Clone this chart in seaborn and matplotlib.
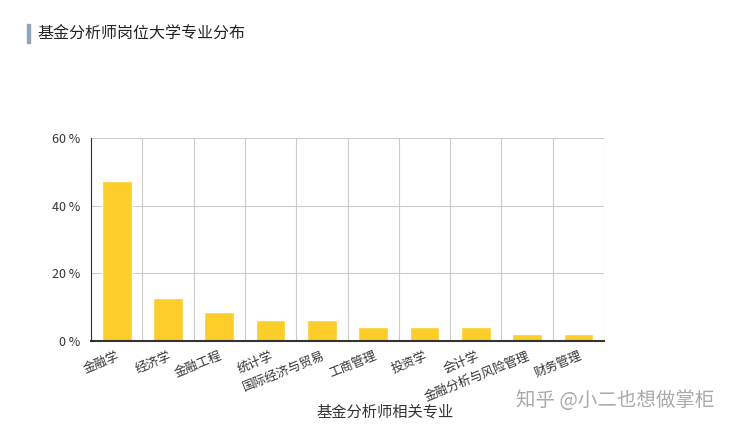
import numpy as np
import pandas as pd
import matplotlib
matplotlib.use("Agg")
import matplotlib.pyplot as plt
import seaborn as sns

majors = ["金融学", "经济学", "金融工程", "统计学", "国际经济与贸易",
          "工商管理", "投资学", "会计学", "金融分析与风险管理", "财务管理"]
share = [47.4, 12.6, 8.5, 6.2, 6.2, 4.1, 4.1, 4.1, 2.1, 2.1]
yticks = [0, 20, 40, 60]

df = pd.DataFrame({"major": majors, "share": share})

sns.set_style("white")
plt.rcParams["font.family"] = ["Noto Sans CJK SC", "DejaVu Sans"]

fig = plt.figure(figsize=(7.43, 4.30), dpi=100)
ax = fig.add_axes([0.1225, 0.207, 0.6905, 0.472])

sns.barplot(data=df, x="major", y="share", color="#FDCD2A", saturation=1,
            width=0.58, ax=ax, zorder=3)

ax.set_xlim(-0.5, len(majors) - 0.5)
ax.set_ylim(0, 60)
ax.set_yticks(yticks)
ax.set_yticklabels([f"{v} %" for v in yticks], fontsize=9, color="#333333")
ax.set_xticks(range(len(majors)))
ax.set_xticklabels(majors, rotation=22, ha="right", va="top",
                   rotation_mode="anchor", fontsize=9, color="#333333")
ax.tick_params(axis="x", which="major", length=0, pad=6)
ax.set_xticks(np.arange(-0.5, len(majors), 1), minor=True)
ax.tick_params(axis="x", which="minor", length=5, color="#333333", width=1)
ax.tick_params(axis="y", length=5, color="#333333", width=1, pad=3)

ax.grid(True, axis="y", color="#cccccc", linewidth=0.8, zorder=0)
ax.grid(True, axis="x", which="minor", color="#cccccc", linewidth=0.8, zorder=0)
ax.grid(False, axis="x", which="major")

for s in ["top", "right"]:
    ax.spines[s].set_visible(False)
for s in ["left", "bottom"]:
    ax.spines[s].set_color("#333333")
    ax.spines[s].set_zorder(5)
ax.spines["bottom"].set_linewidth(1.5)
ax.set_xlabel("")
ax.set_ylabel("")

fig.text(385 / 743, 1 - 412 / 430, "基金分析师相关专业", ha="center", va="center",
         fontsize=11, color="#333333")
fig.text(37 / 743, 1 - 34 / 430, "基金分析师岗位大学专业分布", ha="left", va="center",
         fontsize=11.5, color="#222222")
fig.add_artist(plt.Rectangle((27 / 743, 1 - 43 / 430), 3 / 743, 19 / 430,
                             transform=fig.transFigure, color="#8fa8b8"))
fig.text(615 / 743, 1 - 401 / 430, "知乎 @小二也想做掌柜", ha="center", va="center",
         fontsize=14, color="#aaaaaa")

fig.savefig("out.png", dpi=100)
